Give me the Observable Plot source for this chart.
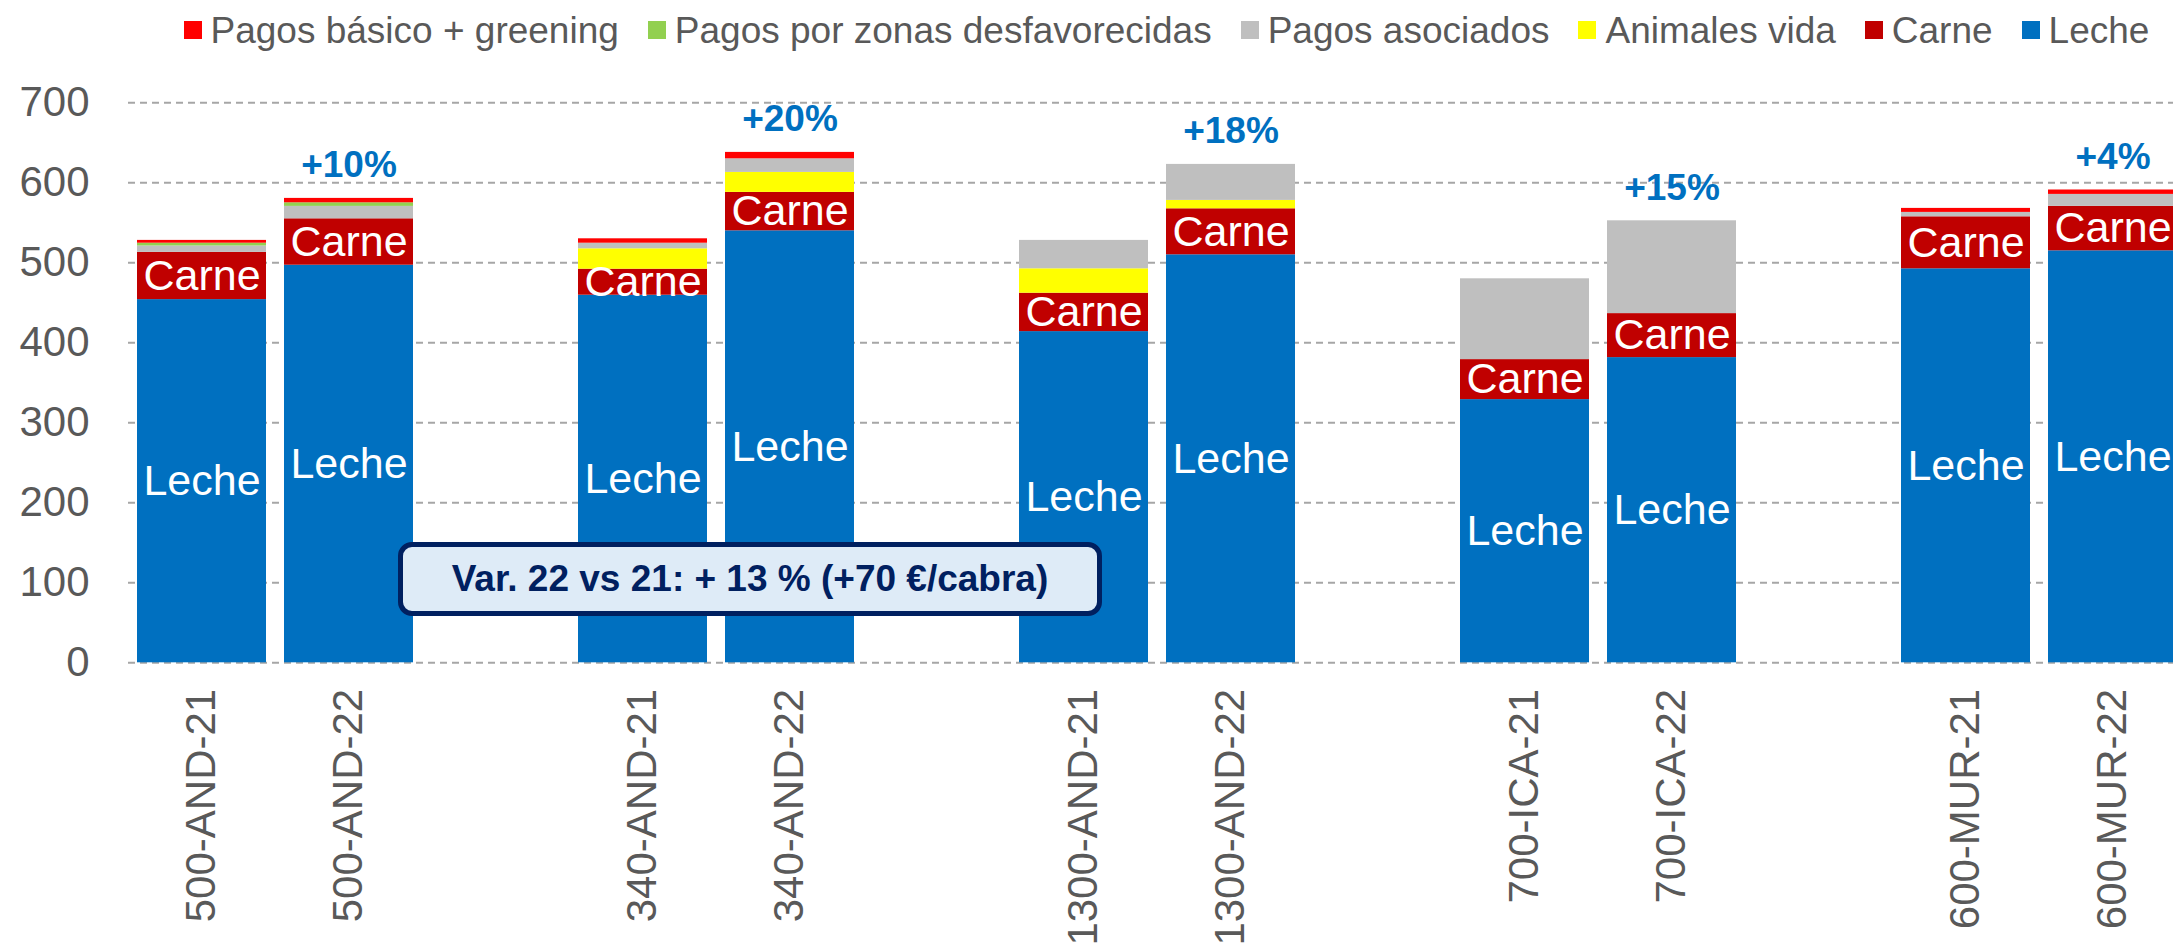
<!DOCTYPE html>
<html>
<head>
<meta charset="utf-8">
<script src="https://cdn.jsdelivr.net/npm/d3@7"></script>
<script src="https://cdn.jsdelivr.net/npm/@observablehq/plot@0.6"></script>
<style>
  html, body { margin: 0; padding: 0; background: #fff; overflow: hidden; }
  body { font-family: "Liberation Sans", Arial, sans-serif; width: 2173px; height: 946px; position: relative; }
  #chart svg { max-width: none !important; }
  #legend { height: 60px; display: flex; align-items: center; padding-left: 183.5px; gap: 29px; color: #595959; font-size: 37px; line-height: 1; white-space: nowrap; }
  #legend .item { display: flex; align-items: center; }
  #legend .sw { width: 18px; height: 18px; margin-right: 9px; display: inline-block; }
  #note { position: absolute; left: 398px; top: 542px; width: 704px; height: 74px; box-sizing: border-box;
          border: 5px solid #002060; border-radius: 14px; background: #DEEBF7; color: #002060;
          font-weight: bold; font-size: 37px; display: flex; align-items: center; justify-content: center; white-space: nowrap; }
</style>
</head>
<body>
<div id="legend"></div>
<div id="chart"></div>
<div id="note"></div>
<script>
// ---- data ----
const categories = ["500-AND-21","500-AND-22","340-AND-21","340-AND-22","1300-AND-21","1300-AND-22","700-ICA-21","700-ICA-22","600-MUR-21","600-MUR-22"];
const leche          = [454, 497, 459.5, 540, 414, 510, 329, 381.5, 492.5, 515];
const carne          = [59, 58, 32.5, 48, 48, 57.5, 50, 55, 65, 55.5];
const animalesVida   = [0, 0, 25.5, 25, 30.5, 10.5, 0, 0, 0, 0];
const pagosAsociados = [8, 15.5, 7, 17, 35.5, 45, 101, 116, 5.5, 15];
const pagosZonas     = [3.5, 4.5, 0, 0, 0, 0, 0, 0, 0, 0];
const pagosBasico    = [3.5, 5.5, 5.5, 8, 0, 0, 0, 0, 5, 5.5];
const variationLabels = ["+10%", "+20%", "+18%", "+15%", "+4%"];
const yTicks = [0, 100, 200, 300, 400, 500, 600, 700];
const noteText = "Var. 22 vs 21: + 13 % (+70 €/cabra)";

// series, bottom to top
const seriesNames  = ["Leche", "Carne", "Animales vida", "Pagos asociados", "Pagos por zonas desfavorecidas", "Pagos básico + greening"];
const seriesValues = [leche, carne, animalesVida, pagosAsociados, pagosZonas, pagosBasico];
const seriesColors = ["#0070C0", "#C00000", "#FFFF00", "#BFBFBF", "#92D050", "#FF0000"];
const legendOrder  = ["Pagos básico + greening", "Pagos por zonas desfavorecidas", "Pagos asociados", "Animales vida", "Carne", "Leche"];

// band domain with an empty slot between each pair
const domain = [];
categories.forEach((c, i) => { domain.push(c); if (i % 2 === 1 && i < categories.length - 1) domain.push("gap" + i); });

const rows = [];
seriesNames.forEach((s, si) => categories.forEach((c, i) => {
  if (seriesValues[si][i] > 0) rows.push({cat: c, series: s, value: seriesValues[si][i]});
}));
const totals = categories.map((c, i) => seriesValues.reduce((a, arr) => a + arr[i], 0));
const pctRows = variationLabels.map((l, k) => ({cat: categories[2 * k + 1], total: totals[2 * k + 1], label: l}));
const inner = [];
categories.forEach((c, i) => {
  inner.push({cat: c, y: leche[i] / 2, label: "Leche"});
  inner.push({cat: c, y: leche[i] + carne[i] / 2, label: "Carne"});
});

// legend
const legend = document.getElementById("legend");
legendOrder.forEach(name => {
  const it = document.createElement("span"); it.className = "item";
  const sw = document.createElement("span"); sw.className = "sw";
  sw.style.background = seriesColors[seriesNames.indexOf(name)];
  it.appendChild(sw); it.appendChild(document.createTextNode(name));
  legend.appendChild(it);
});
document.getElementById("note").textContent = noteText;

const chart = Plot.plot({
  width: 2186,
  height: 886,
  marginLeft: 128,
  marginRight: 0,
  marginTop: 42.3,
  marginBottom: 283.7,
  style: {fontFamily: '"Liberation Sans", Arial, sans-serif', background: "white", color: "#595959", overflow: "visible", maxWidth: "none"},
  x: {domain, paddingInner: 0.125, paddingOuter: 0.0625, axis: null},
  y: {domain: [0, 700], axis: null},
  color: {domain: seriesNames, range: seriesColors},
  marks: [
    Plot.gridY(yTicks, {stroke: "#A6A6A6", strokeOpacity: 1, strokeWidth: 2, strokeDasharray: "7,5"}),
    Plot.axisY(yTicks, {tickSize: 0, tickPadding: 39, fontSize: 42, fill: "#595959", label: null}),
    Plot.axisX(categories, {tickSize: 0, tickPadding: 26, tickRotate: -90, fontSize: 42, fill: "#595959", label: null}),
    Plot.barY(rows, {x: "cat", y: "value", fill: "series", order: seriesNames}),
    Plot.text(inner, {x: "cat", y: "y", text: "label", fill: "white", fontSize: 43}),
    Plot.text(pctRows, {x: "cat", y: "total", text: "label", dy: -33, fill: "#0070C0", fontWeight: "bold", fontSize: 37})
  ]
});
document.getElementById("chart").appendChild(chart);
</script>
</body>
</html>
